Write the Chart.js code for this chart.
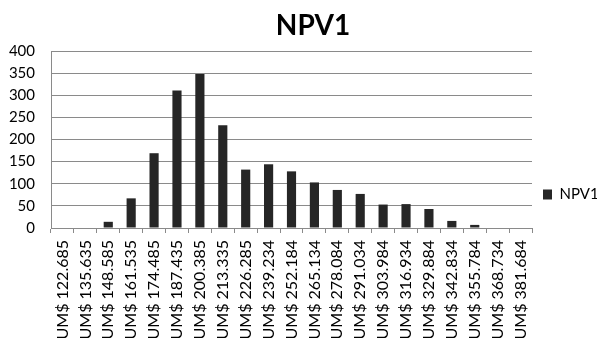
<!DOCTYPE html>
<html>
<head>
<meta charset="utf-8">
<script src="https://cdn.jsdelivr.net/npm/chart.js@4/dist/chart.umd.min.js"></script>
<style>
  html, body { margin: 0; padding: 0; background: #fff; }
  #c { display: block; }
</style>
</head>
<body>
<canvas id="c" width="597" height="338"></canvas>
<script>
const categories = [
  'UM$ 122.685', 'UM$ 135.635', 'UM$ 148.585', 'UM$ 161.535', 'UM$ 174.485',
  'UM$ 187.435', 'UM$ 200.385', 'UM$ 213.335', 'UM$ 226.285', 'UM$ 239.234',
  'UM$ 252.184', 'UM$ 265.134', 'UM$ 278.084', 'UM$ 291.034', 'UM$ 303.984',
  'UM$ 316.934', 'UM$ 329.884', 'UM$ 342.834', 'UM$ 355.784', 'UM$ 368.734',
  'UM$ 381.684'
];
const npv1 = [0, 0, 14, 67, 169, 311, 348, 232, 132, 144, 128, 103, 86, 77, 53, 54, 43, 16, 7, 0, 0];
const yTicks = [0, 50, 100, 150, 200, 250, 300, 350, 400];

const titleText = 'NPV1';
const FONT = 'Lato, "Open Sans", sans-serif';
const AXIS_GREY = '#8a8a8a';

// title sits off-centre in the original, so draw it ourselves
const titlePlugin = {
  id: 'offsetTitle',
  afterDraw(chart) {
    const ctx = chart.ctx;
    ctx.save();
    ctx.font = 'bold 28px ' + FONT;
    ctx.fillStyle = '#000';
    ctx.textAlign = 'center';
    ctx.textBaseline = 'middle';
    ctx.fillText(titleText, 313, 26);
    ctx.restore();
  }
};

new Chart(document.getElementById('c'), {
  type: 'bar',
  data: {
    labels: categories,
    datasets: [{
      label: 'NPV1',
      data: npv1,
      backgroundColor: '#262626',
      borderWidth: 0,
      barPercentage: 0.4,
      categoryPercentage: 1.0
    }]
  },
  options: {
    responsive: false,
    animation: false,
    layout: { padding: { top: 51, left: 0, right: 0, bottom: 0 } },
    plugins: {
      title: { display: false },
      tooltip: { enabled: false },
      legend: {
        position: 'right',
        maxWidth: 65,
        labels: {
          boxWidth: 9,
          boxHeight: 10,
          padding: 11,
          color: '#000',
          font: { family: FONT, size: 15 }
        }
      }
    },
    scales: {
      x: {
        afterFit: (scale) => { scale.height = 110; },
        grid: {
          display: true,
          drawOnChartArea: false,
          drawTicks: true,
          tickLength: 5,
          color: AXIS_GREY,
          offset: true
        },
        border: { display: true, color: AXIS_GREY },
        ticks: {
          autoSkip: false,
          maxRotation: 90,
          minRotation: 90,
          padding: 7,
          color: '#000',
          font: { family: FONT, size: 16 }
        }
      },
      y: {
        min: 0,
        max: 400,
        afterFit: (scale) => { scale.width = 51; },
        afterBuildTicks: (scale) => { scale.ticks = yTicks.map(v => ({ value: v })); },
        grid: {
          color: AXIS_GREY,
          drawTicks: false
        },
        border: { display: true, color: AXIS_GREY },
        ticks: {
          padding: 16,
          color: '#000',
          font: { family: FONT, size: 15 }
        }
      }
    }
  },
  plugins: [titlePlugin]
});
</script>
</body>
</html>
